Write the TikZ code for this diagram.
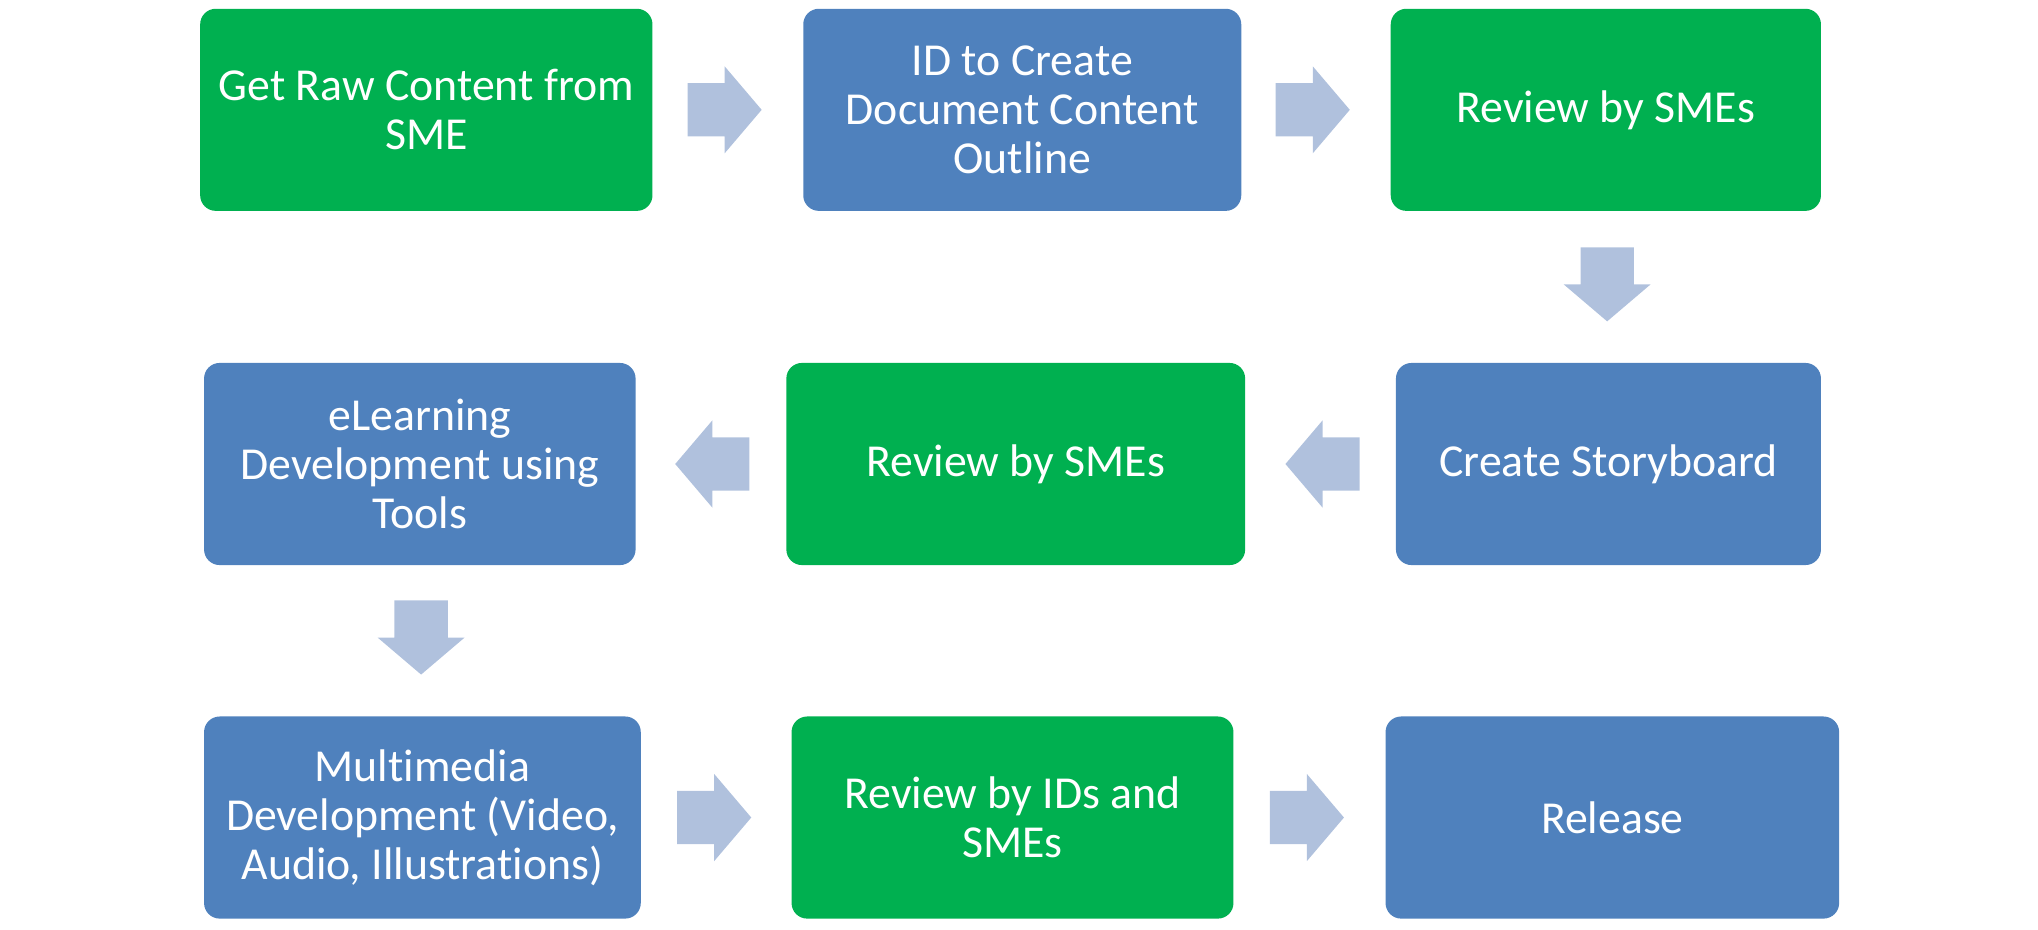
\documentclass[tikz,border=0pt]{standalone}
\usepackage{fontspec}
\setmainfont[Ligatures=NoCommon]{Carlito}
\usetikzlibrary{calc}
\definecolor{boxgreen}{HTML}{00B050}
\definecolor{boxblue}{HTML}{4F81BD}
\definecolor{arrowc}{HTML}{B0C1DD}
\tikzset{
  stepbox/.style={rectangle, rounded corners=6pt, inner sep=0pt, align=center,
    text=white, font=\fontsize{17.6}{18.9}\selectfont, minimum height=77.75pt},
  gbox/.style={stepbox, fill=boxgreen},
  bbox/.style={stepbox, fill=boxblue},
}
\newcommand\blockarrow[2]{%
  \fill[arrowc, shift={(#1)}, rotate=#2]
    (-28.5,-20.5) -- (0,-20.5) -- (0,-33.5) -- (28.5,0) -- (0,33.5) -- (0,20.5) -- (-28.5,20.5) -- cycle;}
\begin{document}
\begin{tikzpicture}[x=0.5pt,y=-0.5pt]
\useasboundingbox (0,0) rectangle (1568,715);
\node[gbox, minimum width=174pt]   (n1) at (328,84.5)    {Get Raw Content from\\SME};
\node[bbox, minimum width=168.5pt] (n2) at (786.5,84.5)  {ID to Create\\Document Content\\Outline};
\node[gbox, minimum width=165.5pt] (n3) at (1235.5,84.5) {Review by SMEs};
\node[bbox, minimum width=163.5pt] (n6) at (1237.5,357)  {Create Storyboard};
\node[gbox, minimum width=176.5pt] (n5) at (781.5,357)   {Review by SMEs};
\node[bbox, minimum width=166pt]   (n4) at (323,357)     {eLearning\\Development using\\Tools};
\node[bbox, minimum width=168pt]   (n7) at (325,629)     {Multimedia\\Development (Video,\\Audio, Illustrations)};
\node[gbox, minimum width=170pt]   (n8) at (779,629)     {Review by IDs and\\SMEs};
\node[bbox, minimum width=174.5pt] (n9) at (1240.5,629)  {Release};
\blockarrow{$(n1.east)!0.5!(n2.west)+(-2.5,0)$}{0}
\blockarrow{$(n2.east)!0.5!(n3.west)+(-2.5,0)$}{0}
\blockarrow{$(n3.south)!0.5!(n6.north)+(0,-2)$}{-90}
\blockarrow{$(n6.west)!0.5!(n5.east)+(1.5,0)$}{180}
\blockarrow{$(n5.west)!0.5!(n4.east)+(1,0)$}{180}
\blockarrow{$(n4.south)!0.5!(n7.north)+(0,-2.5)$}{-90}
\blockarrow{$(n7.east)!0.5!(n8.west)+(-1.5,0)$}{0}
\blockarrow{$(n8.east)!0.5!(n9.west)+(-2,0)$}{0}
\end{tikzpicture}
\end{document}
